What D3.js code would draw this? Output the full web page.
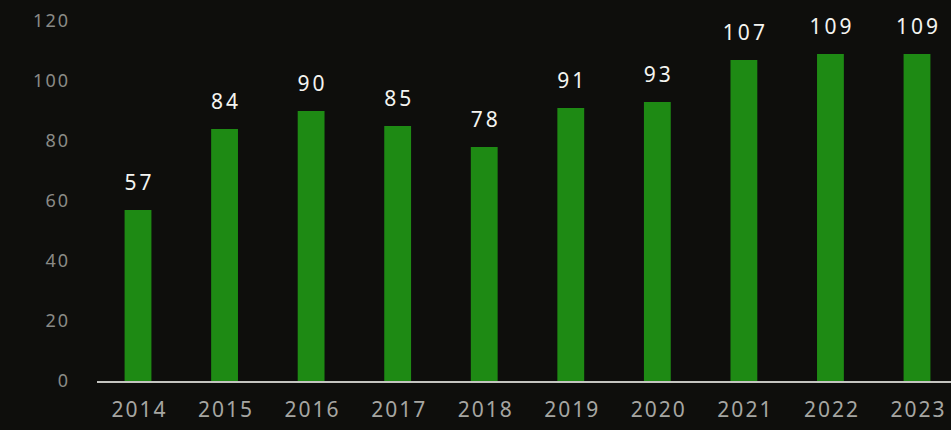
<!DOCTYPE html>
<html>
<head>
<meta charset="utf-8">
<script src="https://cdn.jsdelivr.net/npm/d3@7"></script>
<style>
  html, body { margin: 0; padding: 0; background: #0e0e0c; }
  svg { display: block; }
</style>
</head>
<body>
<svg id="chart" width="951" height="430"></svg>
<script>
const years = ["2014","2015","2016","2017","2018","2019","2020","2021","2022","2023"];
const values = [57, 84, 90, 85, 78, 91, 93, 107, 109, 109];
const yTicks = [0, 20, 40, 60, 80, 100, 120];

const svg = d3.select("#chart");
const W = 951, H = 430;
svg.append("rect").attr("width", W).attr("height", H).attr("fill", "#0e0e0c");

const y = d3.scaleLinear().domain([0, 120]).range([381, 21]);
const x = d3.scalePoint().domain(years).range([138, 917]);
const barW = x.step() * 0.31;
const font = "'Noto Sans', 'Open Sans', sans-serif";

// Y axis (labels only)
const yAxis = svg.append("g")
  .attr("transform", "translate(72,0)")
  .call(d3.axisLeft(y).tickValues(yTicks).tickSize(0).tickPadding(2));
yAxis.select(".domain").remove();
yAxis.selectAll("text")
  .attr("fill", "#8a8a86")
  .style("font-family", font)
  .style("font-size", "18px")
  .style("letter-spacing", "2px");

// Bars
svg.append("g").selectAll("rect")
  .data(values)
  .join("rect")
  .attr("x", (d, i) => x(years[i]) - barW / 2)
  .attr("y", d => y(d))
  .attr("width", barW)
  .attr("height", d => y(0) - y(d))
  .attr("fill", "#1e8a14");

// Baseline
svg.append("line")
  .attr("x1", 97).attr("x2", W)
  .attr("y1", y(0) + 1).attr("y2", y(0) + 1)
  .attr("stroke", "#c4c4c0").attr("stroke-width", 2);

// X axis labels
const xAxis = svg.append("g")
  .attr("transform", `translate(0,${y(0) + 1})`)
  .call(d3.axisBottom(x).tickSize(0).tickPadding(20));
xAxis.select(".domain").remove();
xAxis.selectAll("text")
  .attr("fill", "#a6a6a2")
  .attr("dx", "1px")
  .style("font-family", font)
  .style("font-size", "21px")
  .style("letter-spacing", "2px");

// Value labels
svg.append("g").selectAll("text")
  .data(values)
  .join("text")
  .attr("x", (d, i) => x(years[i]) + 1.5)
  .attr("y", d => y(d) - 20)
  .attr("text-anchor", "middle")
  .attr("fill", "#f4f4f0")
  .style("font-family", font)
  .style("font-size", "21px")
  .style("letter-spacing", "3px")
  .text(d => d);
</script>
</body>
</html>
